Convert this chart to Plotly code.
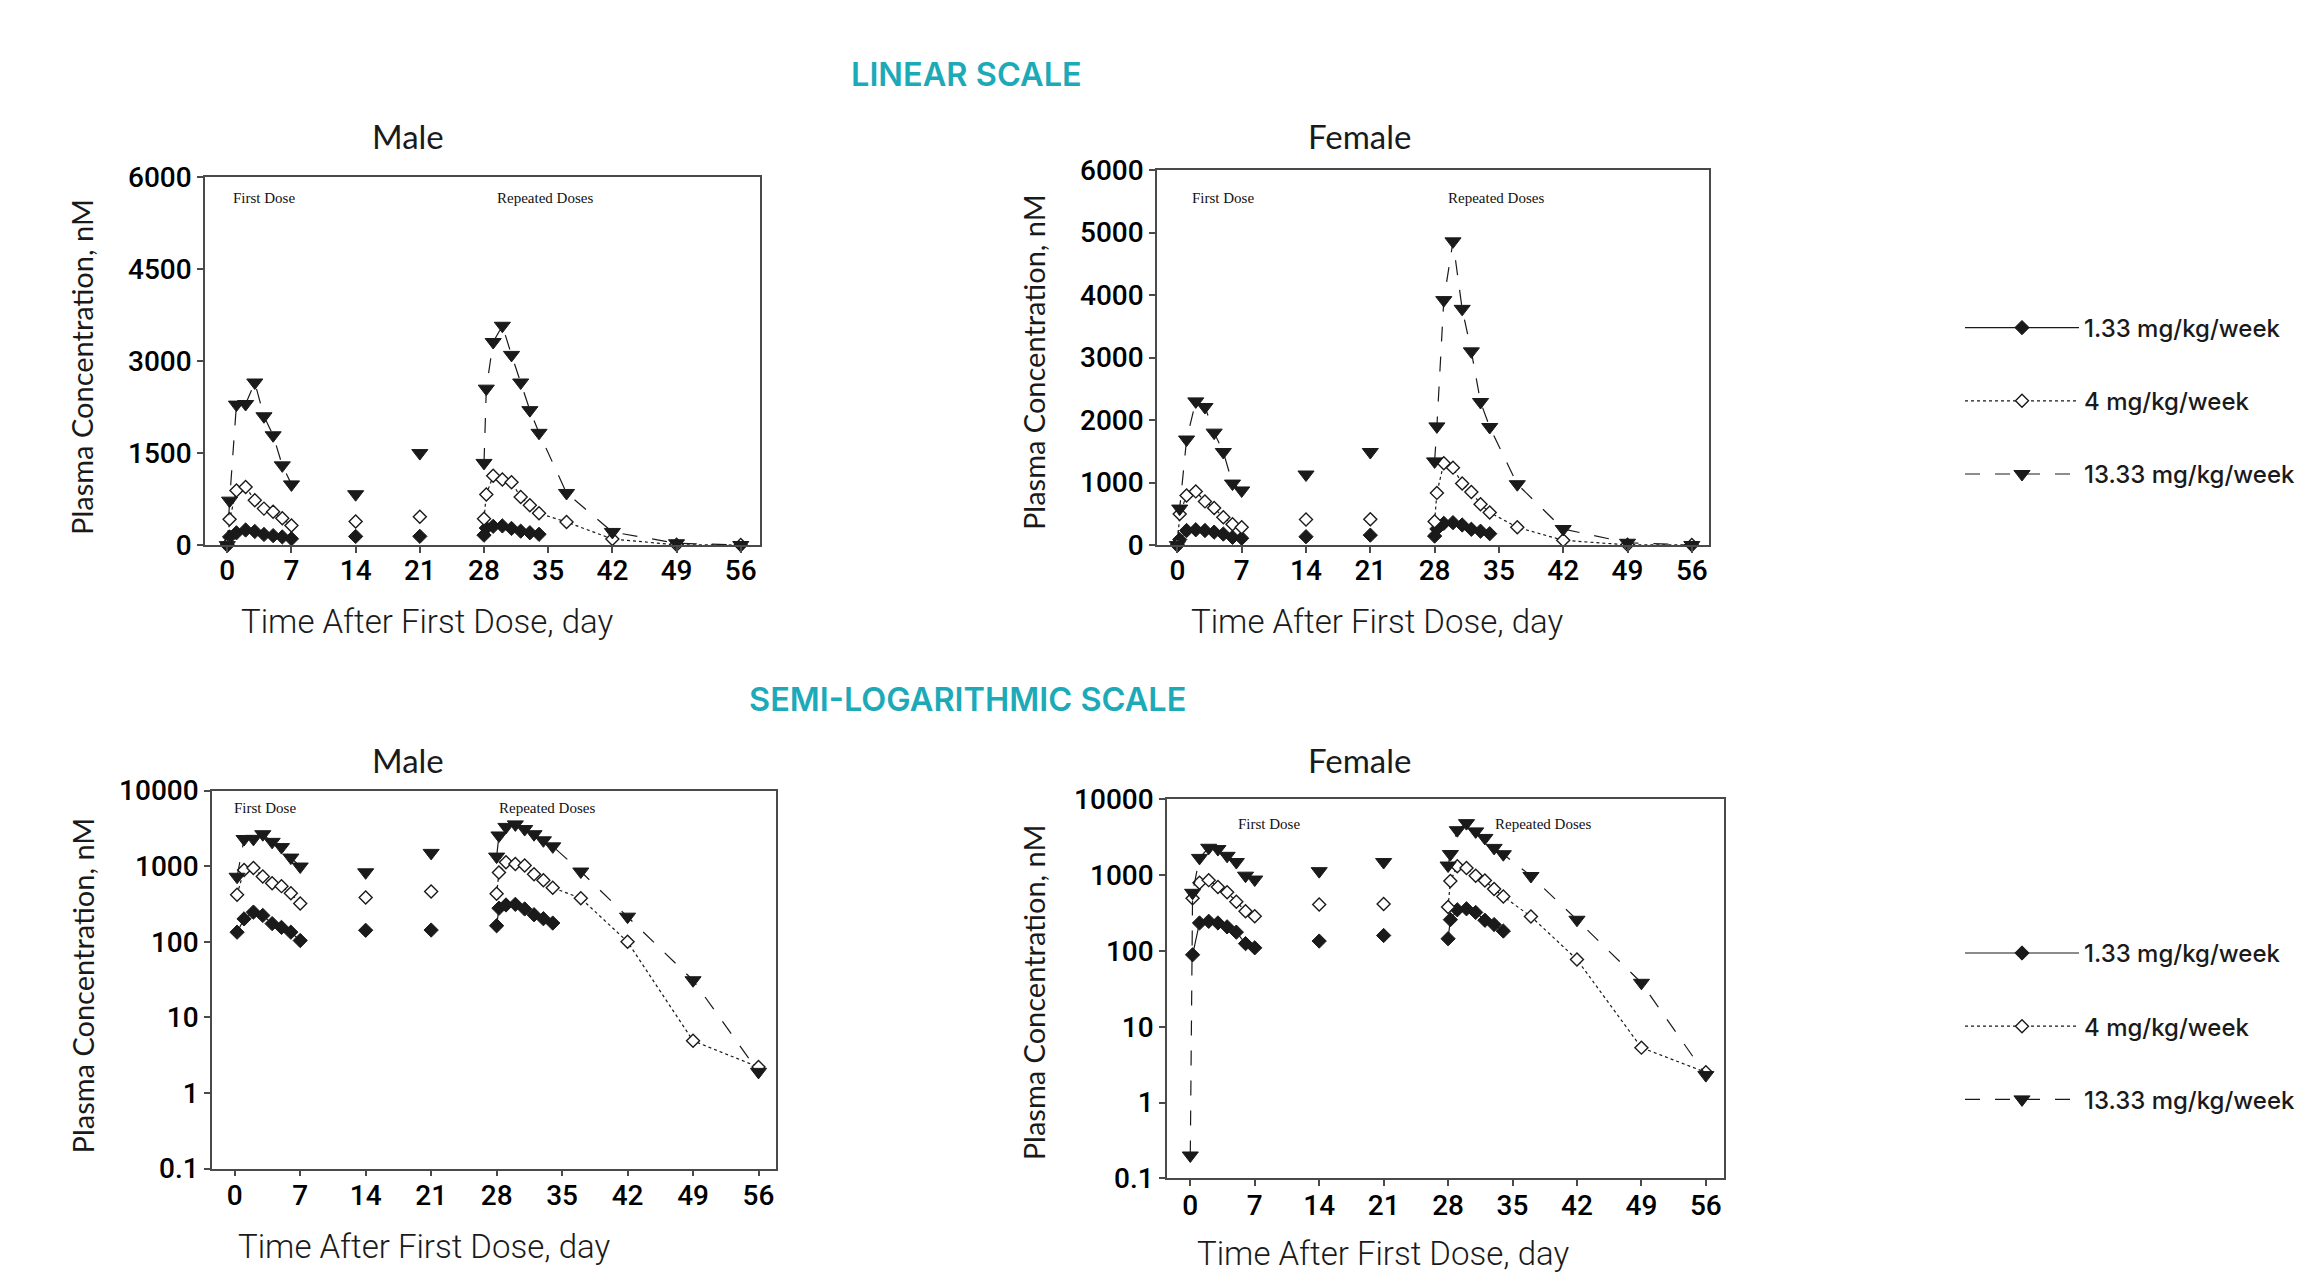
import math
import plotly.graph_objects as go

# ---------------- data ----------------
first_days = [0, 0.25, 1, 2, 3, 4, 5, 6, 7]
trough_days = [14, 21]
repeat_days = [28, 28.25, 29, 30, 31, 32, 33, 34, 37, 42, 49, 56]

dose_labels = ["1.33 mg/kg/week", "4 mg/kg/week", "13.33 mg/kg/week"]

# Male
m133_first = [0, 134, 201, 247, 223, 174, 155, 134, 104]
m133_trough = [142, 143]
m133_repeat = [163, 278, 307, 313, 272, 228, 202, 177, None, None, None, None]

m4_first = [0, 420, 890, 948, 730, 595, 545, 438, 320]
m4_trough = [385, 462]
m4_repeat = [431, 825, 1130, 1070, 1025, 785, 650, 520, 376, 100, 4.9, 2.2]

m13_first = [0, 725, 2290, 2300, 2650, 2100, 1790, 1300, 990]
m13_trough = [830, 1500]
m13_repeat = [1340, 2550, 3310, 3575, 3100, 2650, 2200, 1830, 850, 215, 31, 1.9]

# Female
f133_first = [0, 89, 234, 246, 234, 208, 177, 125, 110]
f133_trough = [135, 160]
f133_repeat = [145, 259, 349, 360, 322, 254, 223, 183, None, None, None, None]

f4_first = [0, 497, 795, 860, 700, 595, 445, 335, 287]
f4_trough = [410, 415]
f4_repeat = [380, 836, 1310, 1240, 985, 850, 655, 522, 285, 77, 5.3, 2.5]

f13_first = [0.2, 585, 1690, 2300, 2210, 1800, 1490, 985, 875]
f13_trough = [1130, 1490]
f13_repeat = [1340, 1900, 3920, 4860, 3780, 3100, 2290, 1890, 975, 258, 38, 2.3]

lin_male_ticks = [0, 1500, 3000, 4500, 6000]
lin_female_ticks = [0, 1000, 2000, 3000, 4000, 5000, 6000]
log_ticks = [0.1, 1, 10, 100, 1000, 10000]
log_ticktext = ["0.1", "1", "10", "100", "1000", "10000"]
x_ticks = [0, 7, 14, 21, 28, 35, 42, 49, 56]

# ---------------- styling ----------------
W, H = 2320, 1274
INK = "#1a1a1a"
AXC = "#4a4a4a"
TEAL = "#1DAAB8"

styles = [
    dict(symbol="diamond", size=11, color=INK, line=dict(color=INK, width=1), dash="solid"),
    dict(symbol="diamond", size=10, color="white", line=dict(color=INK, width=1.4), dash="dot"),
    dict(symbol="triangle-down", size=14, color=INK, line=dict(color=INK, width=1), dash="longdash"),
]

male = [(m133_first, m133_trough, m133_repeat),
        (m4_first, m4_trough, m4_repeat),
        (m13_first, m13_trough, m13_repeat)]
female = [(f133_first, f133_trough, f133_repeat),
          (f4_first, f4_trough, f4_repeat),
          (f13_first, f13_trough, f13_repeat)]


def series_xy(first, trough, repeat, log):
    def ok(v):
        if v is None or (log and v <= 0):
            return None
        return v
    xs = list(first_days) + [None]
    ys = [ok(v) for v in first] + [None]
    for d, v in zip(trough_days, trough):
        xs += [d, None]
        ys += [ok(v), None]
    xs += list(repeat_days)
    ys += [ok(v) for v in repeat]
    return xs, ys


fig = go.Figure()

panels = [
    (male, "x", "y", "legend", False),
    (female, "x2", "y2", None, False),
    (male, "x3", "y3", "legend2", True),
    (female, "x4", "y4", None, True),
]

for data, xa, ya, leg, is_log in panels:
    for i, (first, trough, repeat) in enumerate(data):
        st = styles[i]
        xs, ys = series_xy(first, trough, repeat, is_log)
        fig.add_trace(go.Scatter(
            x=xs, y=ys, xaxis=xa, yaxis=ya,
            mode="lines+markers",
            name=dose_labels[i],
            legend=leg if leg else "legend",
            legendgroup=(leg or "legend") + str(i),
            showlegend=leg is not None,
            connectgaps=False,
            line=dict(color=INK, width=1.2, dash=st["dash"]),
            marker=dict(symbol=st["symbol"], size=st["size"], color=st["color"], line=st["line"]),
            cliponaxis=False,
        ))


def px_dom_x(a, b):
    return [a / W, b / W]


def px_dom_y(top, bot):
    return [1 - bot / H, 1 - top / H]


tickfont = dict(family="Roboto", size=28, color="black", weight=500)

common_axis = dict(showline=True, mirror=True, linecolor=AXC, linewidth=1.5,
                   ticks="outside", ticklen=6, tickcolor=AXC, tickwidth=1.5,
                   showgrid=False, zeroline=False, tickfont=tickfont)

layout_axes = {}
layout_axes["xaxis"] = dict(common_axis, domain=px_dom_x(197, 752), range=[-2.43, 58.1],
                            tickvals=x_ticks, anchor="y", ticklabelstandoff=-6)
layout_axes["yaxis"] = dict(common_axis, domain=px_dom_y(157, 535), range=[0, 6000],
                            tickvals=lin_male_ticks, anchor="x")
layout_axes["xaxis2"] = dict(common_axis, domain=px_dom_x(1149, 1701), range=[-2.22, 57.87],
                             tickvals=x_ticks, anchor="y2", ticklabelstandoff=-6)
layout_axes["yaxis2"] = dict(common_axis, domain=px_dom_y(150, 535), range=[0, 6000],
                             tickvals=lin_female_ticks, anchor="x2")
layout_axes["xaxis3"] = dict(common_axis, domain=px_dom_x(204, 768), range=[-2.43, 57.87],
                             tickvals=x_ticks, anchor="y3", ticklabelstandoff=-5)
layout_axes["yaxis3"] = dict(common_axis, domain=px_dom_y(787, 1175), type="log", range=[-1, 4],
                             tickvals=log_ticks, ticktext=log_ticktext, anchor="x3")
layout_axes["xaxis4"] = dict(common_axis, domain=px_dom_x(1159, 1716), range=[-2.53, 57.97],
                             tickvals=x_ticks, anchor="y4", ticklabelstandoff=-5)
layout_axes["yaxis4"] = dict(common_axis, domain=px_dom_y(796, 1185), type="log", range=[-1, 4],
                             tickvals=log_ticks, ticktext=log_ticktext, anchor="x4")

annotations = []


def ann_px(text, x, y, font, angle=0, xanchor="center"):
    annotations.append(dict(text=text, x=x / W, y=1 - y / H, xref="paper", yref="paper",
                            showarrow=False, font=font, textangle=angle,
                            xanchor=xanchor, yanchor="middle"))


sect_font = dict(family="Inter", size=32.5, color=TEAL, weight=600)
ann_px("LINEAR SCALE", 958, 52, sect_font)
ann_px("SEMI-LOGARITHMIC SCALE", 959, 693, sect_font)

title_font = dict(family="Lato", size=33, color=INK)
ann_px("Male", 400, 115, title_font)
ann_px("Female", 1351, 115, title_font)
ann_px("Male", 400, 756, title_font)
ann_px("Female", 1351, 756, title_font)

xt_font = dict(family="Roboto", size=33, color=INK, weight=300)
xt = "Time After First Dose, day"
ann_px(xt, 419, 613, xt_font)
ann_px(xt, 1369, 613, xt_font)
ann_px(xt, 416, 1255, xt_font)
ann_px(xt, 1375, 1262, xt_font)

yt_font = dict(family="Lato", size=29, color=INK, weight=400)
yt = "Plasma Concentration, nM"
ann_px(yt, 74, 352, yt_font, angle=-90)
ann_px(yt, 1025, 347, yt_font, angle=-90)
ann_px(yt, 74, 987, yt_font, angle=-90)
ann_px(yt, 1025, 994, yt_font, angle=-90)

phase_font = dict(family="Liberation Serif", size=15, color="#111111")
phase = [
    ("x", "y", 0.4, 5650, 29.2, 5650, False),
    ("x2", "y2", 1.4, 5560, 29.2, 5560, False),
    ("x3", "y3", -0.3, 5900, 28.0, 5900, True),
    ("x4", "y4", 5.0, 4700, 32.9, 4700, True),
]
for xa, ya, x1, y1, x2, y2, is_log in phase:
    for tx, xx, yy in (("First Dose", x1, y1), ("Repeated Doses", x2, y2)):
        annotations.append(dict(text=tx, x=xx, y=math.log10(yy) if is_log else yy,
                                xref=xa, yref=ya, showarrow=False, font=phase_font,
                                xanchor="left", yanchor="middle"))

leg_common = dict(font=dict(family="Inter", size=24, color=INK, weight=500),
                  bgcolor="rgba(0,0,0,0)", tracegroupgap=39, itemwidth=114,
                  xanchor="left", yanchor="top", traceorder="grouped")

fig.update_layout(
    width=W, height=H,
    margin=dict(l=0, r=0, t=0, b=0),
    paper_bgcolor="white", plot_bgcolor="white",
    annotations=annotations,
    legend=dict(leg_common, x=1952 / W, y=1 - 289 / H),
    legend2=dict(leg_common, x=1952 / W, y=1 - 931 / H),
    **layout_axes,
)

fig.write_html("out.html")
